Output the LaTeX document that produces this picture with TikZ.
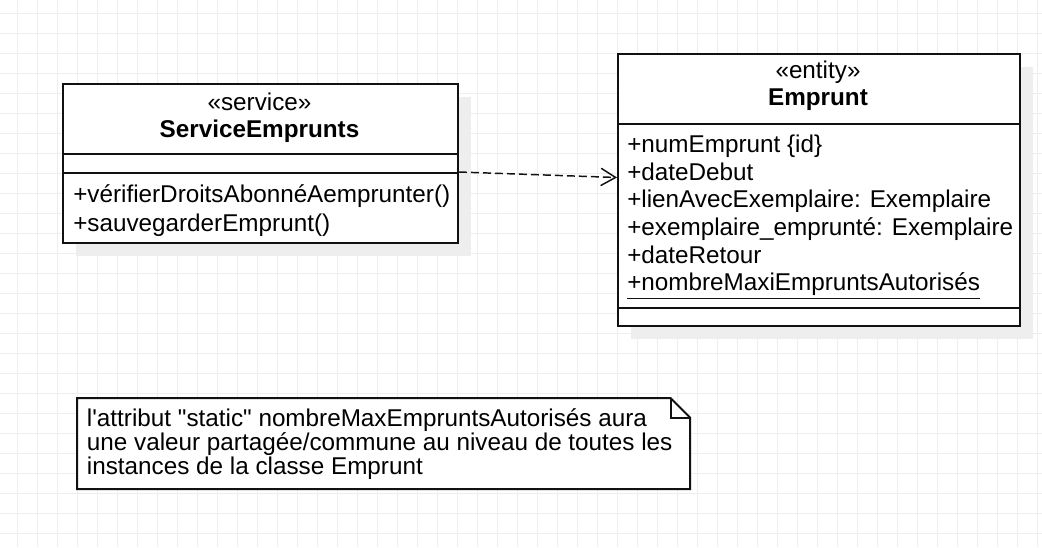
\documentclass[tikz,border=0pt]{standalone}
\usepackage{fontspec}
\setmainfont{Liberation Sans}[Ligatures=TeXOff]
\usetikzlibrary{arrows.meta, positioning}
\definecolor{gridgray}{RGB}{238,238,238}
\definecolor{shadowgray}{RGB}{238,238,238}
\definecolor{umlblack}{RGB}{17,17,17}
\newcommand{\umlfont}{\fontsize{18.2}{20.7}\selectfont}
\newcommand{\notefont}{\fontsize{18.2}{18}\selectfont}

\begin{document}
\begin{tikzpicture}[x=0.75pt, y=-0.75pt,
    classbox/.style={draw=umlblack, line width=1.5pt, fill=white, anchor=north west, inner sep=0pt},
    title/.style={font=\umlfont, inner sep=0pt},
    member/.style={font=\umlfont, anchor=base west, inner sep=0pt},
    sepline/.style={draw=umlblack, line width=1.5pt},
    depend/.style={draw=umlblack, line width=1.1pt, dash pattern=on 6pt off 3pt,
        -{Straight Barb[length=11pt, width=13pt]}}]
    \useasboundingbox (0,0) rectangle (1042,547);
    \fill[white] (0,0) rectangle (1042,547);

    % Grid
    \foreach \x in {17.3,37.3,...,1040} {
        \draw[gridgray, line width=0.75pt] (\x,0) -- (\x,547);
    }
    \foreach \y in {13.3,33.3,...,547} {
        \draw[gridgray, line width=0.75pt] (0,\y) -- (1042,\y);
    }

    % Shadows
    \fill[shadowgray] (76,97) rectangle (471,256);
    \fill[shadowgray] (631,67) rectangle (1033,339);

    % Class ServiceEmprunts
    \node[classbox, minimum width=296.25pt, minimum height=119.25pt] (service) at (62,83) {};
    \draw[sepline] (service.west |- 0,154) -- (service.east |- 0,154);
    \draw[sepline] (service.west |- 0,173) -- (service.east |- 0,173);
    \node[title] (serviceStereo) at (259.5,102) {«service»};
    \node[title, font=\umlfont\bfseries] (serviceName) at (259.5,131) {ServiceEmprunts};
    \node[member] (op1) at (73,202.7) {+vérifierDroitsAbonnéAemprunter()};
    \node[member] (op2) at (73,231.4) {+sauvegarderEmprunt()};

    % Class Emprunt
    \node[classbox, minimum width=301.5pt, minimum height=204pt] (emprunt) at (617,53) {};
    \draw[sepline] (emprunt.west |- 0,124) -- (emprunt.east |- 0,124);
    \draw[sepline] (emprunt.west |- 0,308) -- (emprunt.east |- 0,308);
    \node[title] (empruntStereo) at (818,72.7) {«entity»};
    \node[title, font=\umlfont\bfseries] (empruntName) at (818,100) {Emprunt};
    \node[member] (attr1) at (627,152.7) {+numEmprunt \{id\}};
    \node[member] (attr2) at (627,180.3) {+dateDebut};
    \node[member] (attr3) at (627,207.9) {+lienAvecExemplaire: Exemplaire};
    \node[member] (attr4) at (627,235.5) {+exemplaire\_emprunté: Exemplaire};
    \node[member] (attr5) at (627,263.1) {+dateRetour};
    \node[member] (attr6) at (627,290.7) {+nombreMaxiEmpruntsAutorisés};
    \draw[umlblack, line width=1pt] (attr6.west |- 0,298.5) -- (attr6.east |- 0,298.5);

    % Dependency
    \draw[depend] (service.east |- 0,172) -- (emprunt.west |- 0,177.5);

    % Note
    \draw[umlblack, line width=1.5pt, fill=white] (77,398) -- (670.5,398) -- (690,417.5)
        -- (690,489) -- (77,489) -- cycle;
    \draw[umlblack, line width=1.5pt] (670.5,398) -- (670.5,417.5) -- (690,417.5);
    \node[font=\notefont, anchor=west, align=left, inner sep=0pt] (note) at (86.7,444.5)
        {l'attribut "static" nombreMaxEmpruntsAutorisés aura\\
         une valeur partagée/commune au niveau de toutes les\\
         instances de la classe Emprunt};
\end{tikzpicture}
\end{document}
